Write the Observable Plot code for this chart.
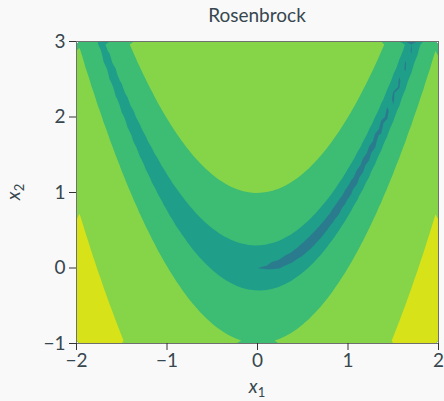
<!DOCTYPE html>
<html>
<head>
<meta charset="utf-8">
<script src="https://cdn.jsdelivr.net/npm/d3@7"></script>
<script src="https://cdn.jsdelivr.net/npm/@observablehq/plot@0.6"></script>
<style>
  html, body { margin: 0; padding: 0; background: #f9f9f9; }
  svg { display: block; }
</style>
</head>
<body>
<div id="chart"></div>
<script>
// Chart definition
const title = "Rosenbrock";
const rosenA = 1;
const rosenB = 100;
const xDomain = [-2, 2];
const yDomain = [-1, 3];
const xTicks = [-2, -1, 0, 1, 2];
const yTicks = [-1, 0, 1, 2, 3];
const levels = [0, 1, 10, 100, 1000];
const levelColors = ["#2b7b8e", "#1f9e89", "#3dbc74", "#86d549", "#d8e219"];

const rosenbrock = (x, y) => (rosenA - x) ** 2 + rosenB * (y - x * x) ** 2;

const textColor = "#37474f";
const fontFamily = "Lato, 'Open Sans', sans-serif";
const fmt = (d) => (d < 0 ? "\u2212" + Math.abs(d) : String(d));

const plot = Plot.plot({
  width: 444,
  height: 401,
  marginLeft: 76,
  marginRight: 6,
  marginTop: 41,
  marginBottom: 58,
  style: {background: "transparent", fontFamily, color: textColor, fontSize: "19px"},
  x: {domain: xDomain},
  y: {domain: yDomain},
  color: {type: "ordinal", domain: levels, range: levelColors},
  marks: [
    Plot.contour({
      value: rosenbrock,
      x1: xDomain[0], x2: xDomain[1], y1: yDomain[0], y2: yDomain[1],
      pixelSize: 6,
      thresholds: levels,
      fill: "value",
      stroke: "none"
    }),
    Plot.frame({stroke: "#707070", strokeWidth: 1}),
    Plot.axisX({ticks: xTicks, tickFormat: fmt, tickSize: 7, tickPadding: 3, label: null, fontSize: 19, stroke: "#333"}),
    Plot.axisY({ticks: yTicks, tickFormat: fmt, tickSize: 7, tickPadding: 4, label: null, fontSize: 19, stroke: "#333"})
  ]
});

const svg = d3.select(plot);
svg.append("text")
  .attr("x", 257).attr("y", 22)
  .attr("text-anchor", "middle")
  .attr("fill", textColor)
  .style("font-family", fontFamily)
  .style("font-size", "19px")
  .text(title);

const xl = svg.append("text")
  .attr("x", 257).attr("y", 393)
  .attr("text-anchor", "middle")
  .attr("fill", textColor)
  .style("font-family", fontFamily)
  .style("font-size", "19px");
xl.append("tspan").style("font-style", "italic").text("x");
xl.append("tspan").attr("dy", 4).style("font-size", "13px").text("1");

const yl = svg.append("text")
  .attr("transform", "translate(20,192) rotate(-90)")
  .attr("text-anchor", "middle")
  .attr("fill", textColor)
  .style("font-family", fontFamily)
  .style("font-size", "19px");
yl.append("tspan").style("font-style", "italic").text("x");
yl.append("tspan").attr("dy", 4).style("font-size", "13px").text("2");

document.getElementById("chart").appendChild(plot);
</script>
</body>
</html>
